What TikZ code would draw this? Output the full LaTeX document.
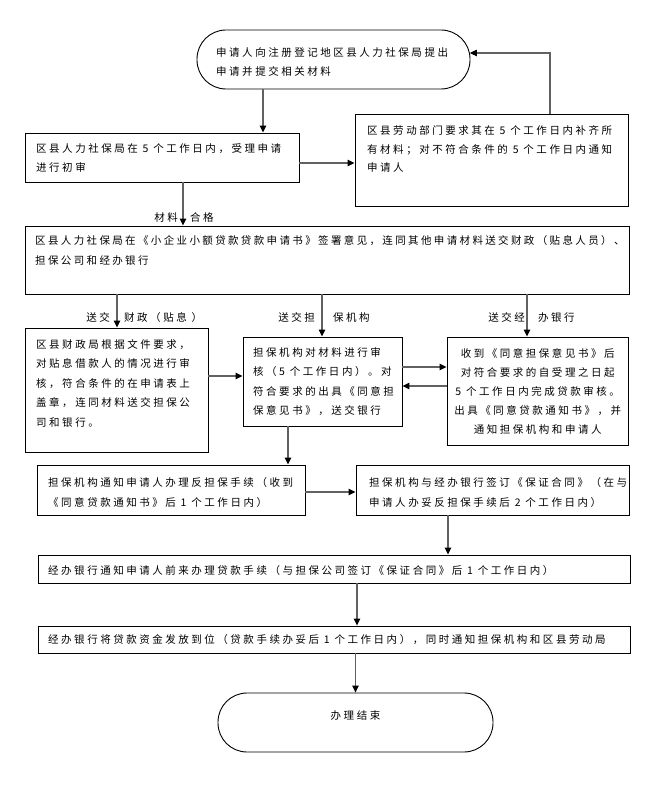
\documentclass[tikz,border=0pt]{standalone}
\usepackage{fontspec}
\newfontfamily\cjk[LetterSpace=24]{Noto Sans CJK SC}
\newfontfamily\cjknarrow[LetterSpace=22.5]{Noto Sans CJK SC}
\usetikzlibrary{arrows.meta}
\newcommand{\mkbox}[6][box]{\node[#1, minimum width={(#5-#3)*1pt}, minimum height={(#6-#4)*1pt}] (#2) at ({(#3+#5)/2},{(#4+#6)/2}) {};}
\newcommand{\tl}[2]{\parbox[t]{640pt}{\raggedright\lineskiplimit=-20pt\baselineskip=#1pt #2}}
\newcommand{\tc}[3]{\parbox[t]{#1pt}{\centering\lineskiplimit=-20pt\baselineskip=#2pt #3}}
\tikzset{
  box/.style={draw, line width=0.9pt, inner sep=0pt, rectangle},
  term/.style={draw, line width=0.9pt, inner sep=0pt, rectangle, rounded corners=29pt},
  txt/.style={inner sep=0pt, anchor=base west, font=\cjk\fontsize{10.5pt}{19pt}\selectfont},
  lbl/.style={inner sep=0pt, font=\cjk\fontsize{10.5pt}{19pt}\selectfont},
  conn/.style={draw=black!62, line width=1.1pt, -{Triangle[length=7pt,width=6.5pt,color=black]}},
  plain/.style={draw=black!62, line width=1.1pt}
}
\begin{document}
\begin{tikzpicture}[x=1pt,y=-1pt]
\useasboundingbox[fill=white] (0,0) rectangle (666,786);
% boxes
\mkbox[term]{start}{197}{30}{470}{89}
\mkbox{b1}{25}{133}{299}{182}
\mkbox{b2}{355}{114}{628}{206}
\mkbox{b3}{25}{226}{629}{294}
\mkbox{b4}{25}{328}{208}{452}
\mkbox{b5}{243}{337}{402}{426}
\mkbox{b6}{447}{337}{628}{445}
\mkbox{b7}{37}{465}{305}{515}
\mkbox{b8}{356}{465}{629}{515}
\mkbox{b9}{38}{555}{630}{583}
\mkbox{b10}{38}{626}{630}{653}
\mkbox[term]{end}{218}{693}{493}{752}
% texts
\node[txt] (tstart) at (216,57) {\tl{19}{申请人向注册登记地区县人力社保局提出\\申请并提交相关材料}};
\node[txt] (tb1) at (36,153) {\tl{19}{区县人力社保局在 5 个工作日内，受理申请\\进行初审}};
\node[txt] (tb2) at (367,135) {\tl{18.5}{区县劳动部门要求其在 5 个工作日内补齐所\\有材料；对不符合条件的 5 个工作日内通知\\申请人}};
\node[txt, font=\cjknarrow\fontsize{10.5pt}{19pt}\selectfont] (tb3) at (35,244) {\tl{20.5}{区县人力社保局在《小企业小额贷款贷款申请书》签署意见，连同其他申请材料送交财政（贴息人员）、\\担保公司和经办银行}};
\node[txt] (tb4) at (36,348) {\tl{19.5}{区县财政局根据文件要求，\\对贴息借款人的情况进行审\\核，符合条件的在申请表上\\盖章，连同材料送交担保公\\司和银行。}};
\node[txt] (tb5) at (253,356) {\tl{19.5}{担保机构对材料进行审\\核（5 个工作日内）。对\\符合要求的出具《同意担\\保意见书》，送交银行}};
\node[txt] (tb6) at (447,357) {\tc{181}{19}{收到《同意担保意见书》后\\对符合要求的自受理之日起\\5 个工作日内完成贷款审核。\\出具《同意贷款通知书》，并\\通知担保机构和申请人}};
\node[txt] (tb7) at (48,486) {\tl{20}{担保机构通知申请人办理反担保手续（收到\\《同意贷款通知书》后 1 个工作日内）}};
\node[txt] (tb8) at (369,486) {\tl{20}{担保机构与经办银行签订《保证合同》（在与\\申请人办妥反担保手续后 2 个工作日内）}};
\node[txt] (tb9) at (48,574) {经办银行通知申请人前来办理贷款手续（与担保公司签订《保证合同》后 1 个工作日内）};
\node[txt] (tb10) at (48,643) {经办银行将贷款资金发放到位（贷款手续办妥后 1 个工作日内），同时通知担保机构和区县劳动局};
\node[lbl, anchor=base] (tend) at (355.5,719) {办理结束};
% connectors
\draw[conn] (start.south -| 263,0) -- (b1.north -| 263,0);
\draw[conn] (b1.east |- 0,163) -- (b2.west |- 0,163);
\draw[conn] (b2.north -| 550,0) |- ([xshift=-0.6pt]start.east |- 0,53);
\draw[conn] (b1.south -| 183,0) -- (b3.north -| 183,0);
\node[lbl, anchor=base east] (l1a) at (178,222) {材料};
\node[lbl, anchor=base west] (l1b) at (190,222) {合格};
\draw[conn] (b3.south -| 117,0) -- (b4.north -| 117,0);
\node[lbl, anchor=base east] (l2a) at (110,321) {送交};
\node[lbl, anchor=base west] (l2b) at (124,321) {财政（贴息 ）};
\draw[conn] (b3.south -| 322,0) -- (b5.north -| 322,0);
\node[lbl, anchor=base east] (l3a) at (315,321) {送交担};
\node[lbl, anchor=base west] (l3b) at (333,321) {保机构};
\draw[conn] (b3.south -| 527,0) -- (b6.north -| 527,0);
\node[lbl, anchor=base east] (l4a) at (525,321) {送交经};
\node[lbl, anchor=base west] (l4b) at (538,321) {办银行};
\draw[conn] (b4.east |- 0,376) -- (b5.west |- 0,376);
\draw[conn] (b5.east |- 0,367) -- (b6.west |- 0,367);
\draw[conn] (b6.west |- 0,386) -- (b5.east |- 0,386);
\draw[conn] (b5.south -| 288,0) -- (b7.north -| 288,0);
\draw[conn] (b7.east |- 0,492) -- (b8.west |- 0,492);
\draw[conn] (b8.south -| 448,0) -- (b9.north -| 448,0);
\draw[conn] (b9.south -| 357,0) -- (b10.north -| 357,0);
\draw[conn] (b10.south -| 355.5,0) -- (end.north -| 355.5,0);
\end{tikzpicture}
\end{document}
